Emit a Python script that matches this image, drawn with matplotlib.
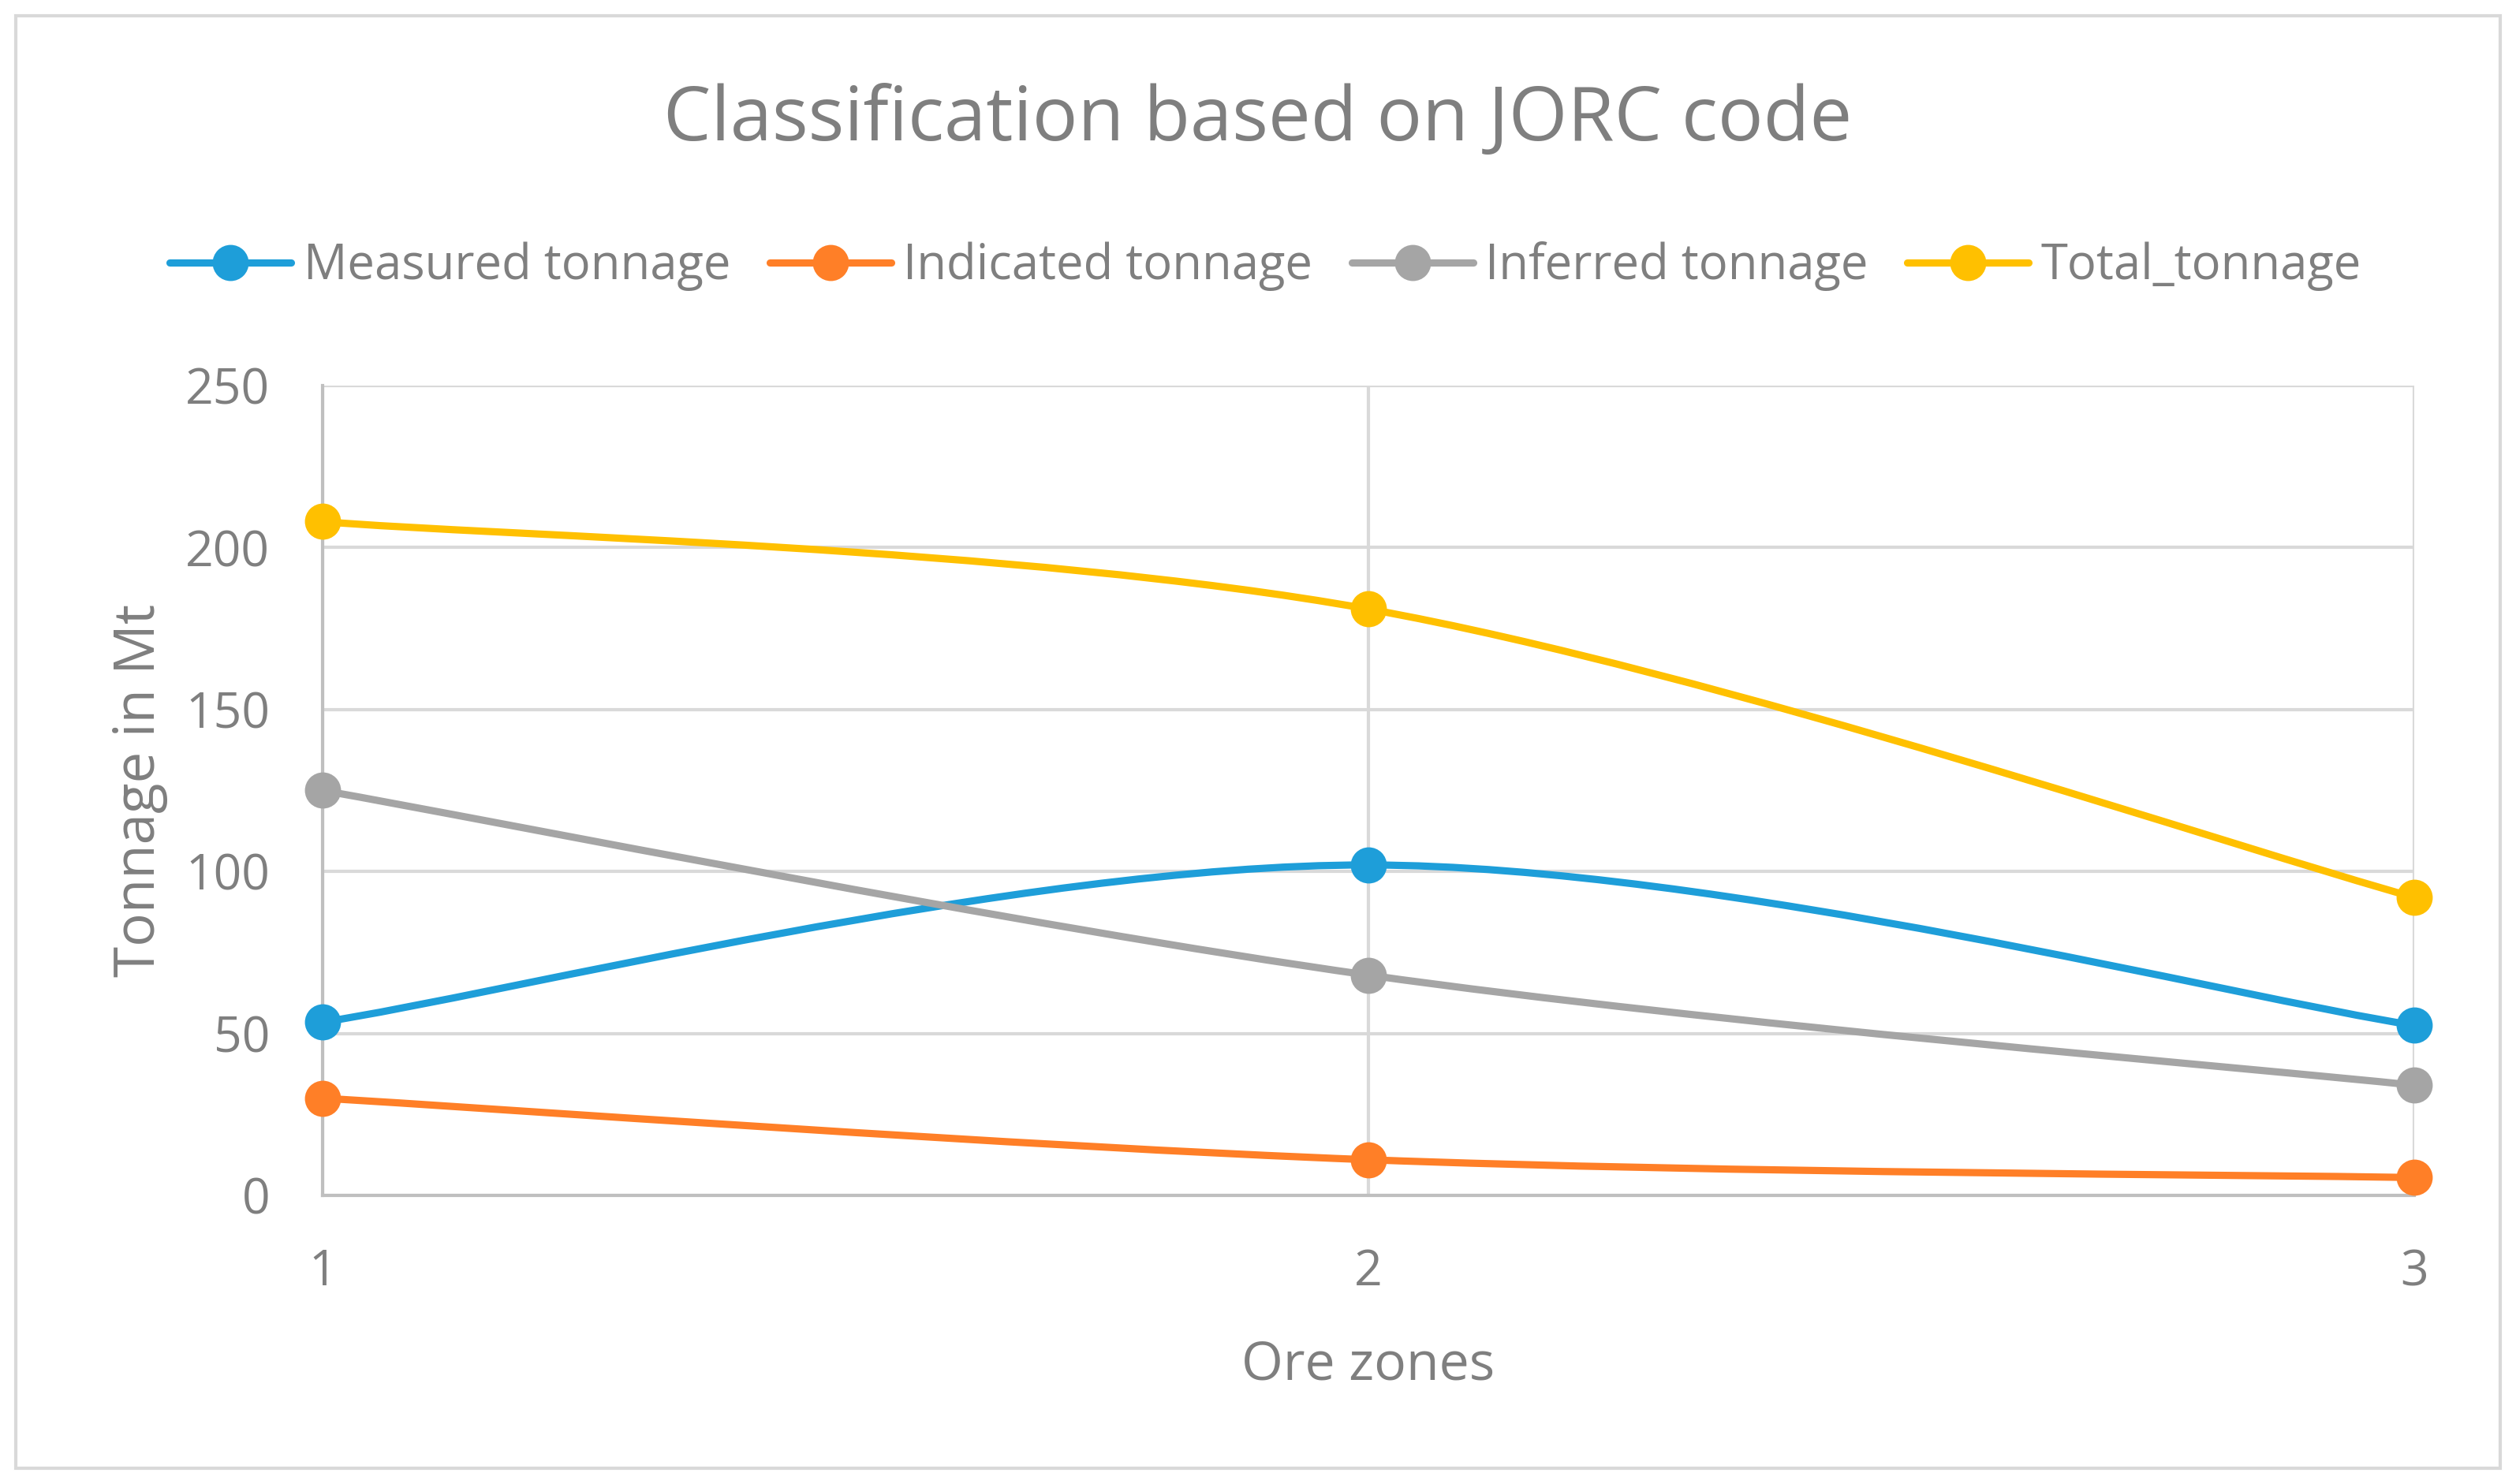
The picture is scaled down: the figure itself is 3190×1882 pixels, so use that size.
import numpy as np
import matplotlib
matplotlib.use('Agg')
import matplotlib.pyplot as plt
from matplotlib.path import Path
from matplotlib.patches import PathPatch, Rectangle
from matplotlib.lines import Line2D

plt.rcParams['font.family'] = ['Open Sans', 'DejaVu Sans']

# Data
zones = [1, 2, 3]
measured = [53.5, 102, 52.5]
indicated = [30, 11, 5.5]
inferred = [125, 68, 34]
total = [208, 181, 92]

series_names = ['Measured tonnage', 'Indicated tonnage', 'Inferred tonnage', 'Total_tonnage']
series_values = [measured, indicated, inferred, total]
colors = ['#1E9ED9', '#FF7F27', '#A5A5A5', '#FFC000']
text_color = '#7F7F7F'
grid_color = '#D9D9D9'


def smooth_path(xs, ys):
    # Excel-like smoothed line: Catmull-Rom as cubic Bezier segments
    pts = np.column_stack([xs, ys]).astype(float)
    n = len(pts)
    verts = [pts[0]]
    codes = [Path.MOVETO]
    for i in range(n - 1):
        p_prev = pts[max(i - 1, 0)]
        p0 = pts[i]
        p1 = pts[i + 1]
        p_next = pts[min(i + 2, n - 1)]
        c1 = p0 + (p1 - p_prev) / 6.0
        c2 = p1 - (p_next - p0) / 6.0
        verts += [c1, c2, p1]
        codes += [Path.CURVE4] * 3
    return Path(verts, codes)


fig = plt.figure(figsize=(15.95, 9.41), dpi=200)
ax = fig.add_axes([0.1282, 0.1945, 0.9596 - 0.1282, 0.7402 - 0.1945])

# outer chart border
fig.patches.append(Rectangle((20 / 3190, 20 / 1882), 1 - 40 / 3190, 1 - 40 / 1882,
                             transform=fig.transFigure, fill=False,
                             edgecolor=grid_color, linewidth=1.5))

lw = 3.3
ms = 15.5
handles = []
for name, vals, col in zip(series_names, series_values, colors):
    patch = PathPatch(smooth_path(zones, vals), facecolor='none', edgecolor=col,
                      linewidth=lw, capstyle='round', zorder=3)
    ax.add_patch(patch)
    ax.plot(zones, vals, linestyle='none', marker='o', markersize=ms,
            color=col, zorder=4, clip_on=False)
    handles.append(Line2D([], [], color=col, linewidth=lw, marker='o',
                          markersize=ms, solid_capstyle='round'))

ax.set_xlim(1, 3)
ax.set_ylim(0, 250)
ax.set_xticks(zones)
ax.set_yticks(np.arange(0, 251, 50))
ax.grid(True, color=grid_color, linewidth=1.5)
ax.set_axisbelow(True)
for side in ['top', 'right']:
    ax.spines[side].set_visible(False)
for side in ['left', 'bottom']:
    ax.spines[side].set_color('#BFBFBF')
    ax.spines[side].set_linewidth(1.5)
ax.tick_params(length=0, labelsize=22.5, colors=text_color)
ax.tick_params(axis='y', pad=24)
ax.tick_params(axis='x', pad=24)

ax.set_xlabel('Ore zones', fontsize=24.5, color=text_color, labelpad=19)
ax.set_ylabel('Tonnage in Mt', fontsize=25.5, color=text_color, labelpad=8)

fig.text(0.5, 1 - 153 / 1882, 'Classification based on JORC code', fontsize=34.5,
         color=text_color, ha='center', va='center')

leg = fig.legend(handles, series_names, loc='center', ncol=4,
                 bbox_to_anchor=(0.503, 1 - 338 / 1882), frameon=False,
                 fontsize=22.2, handlelength=2.5, columnspacing=0.8,
                 handletextpad=0.25)
for t in leg.get_texts():
    t.set_color(text_color)

fig.savefig('out.png', dpi=200, facecolor='white')
